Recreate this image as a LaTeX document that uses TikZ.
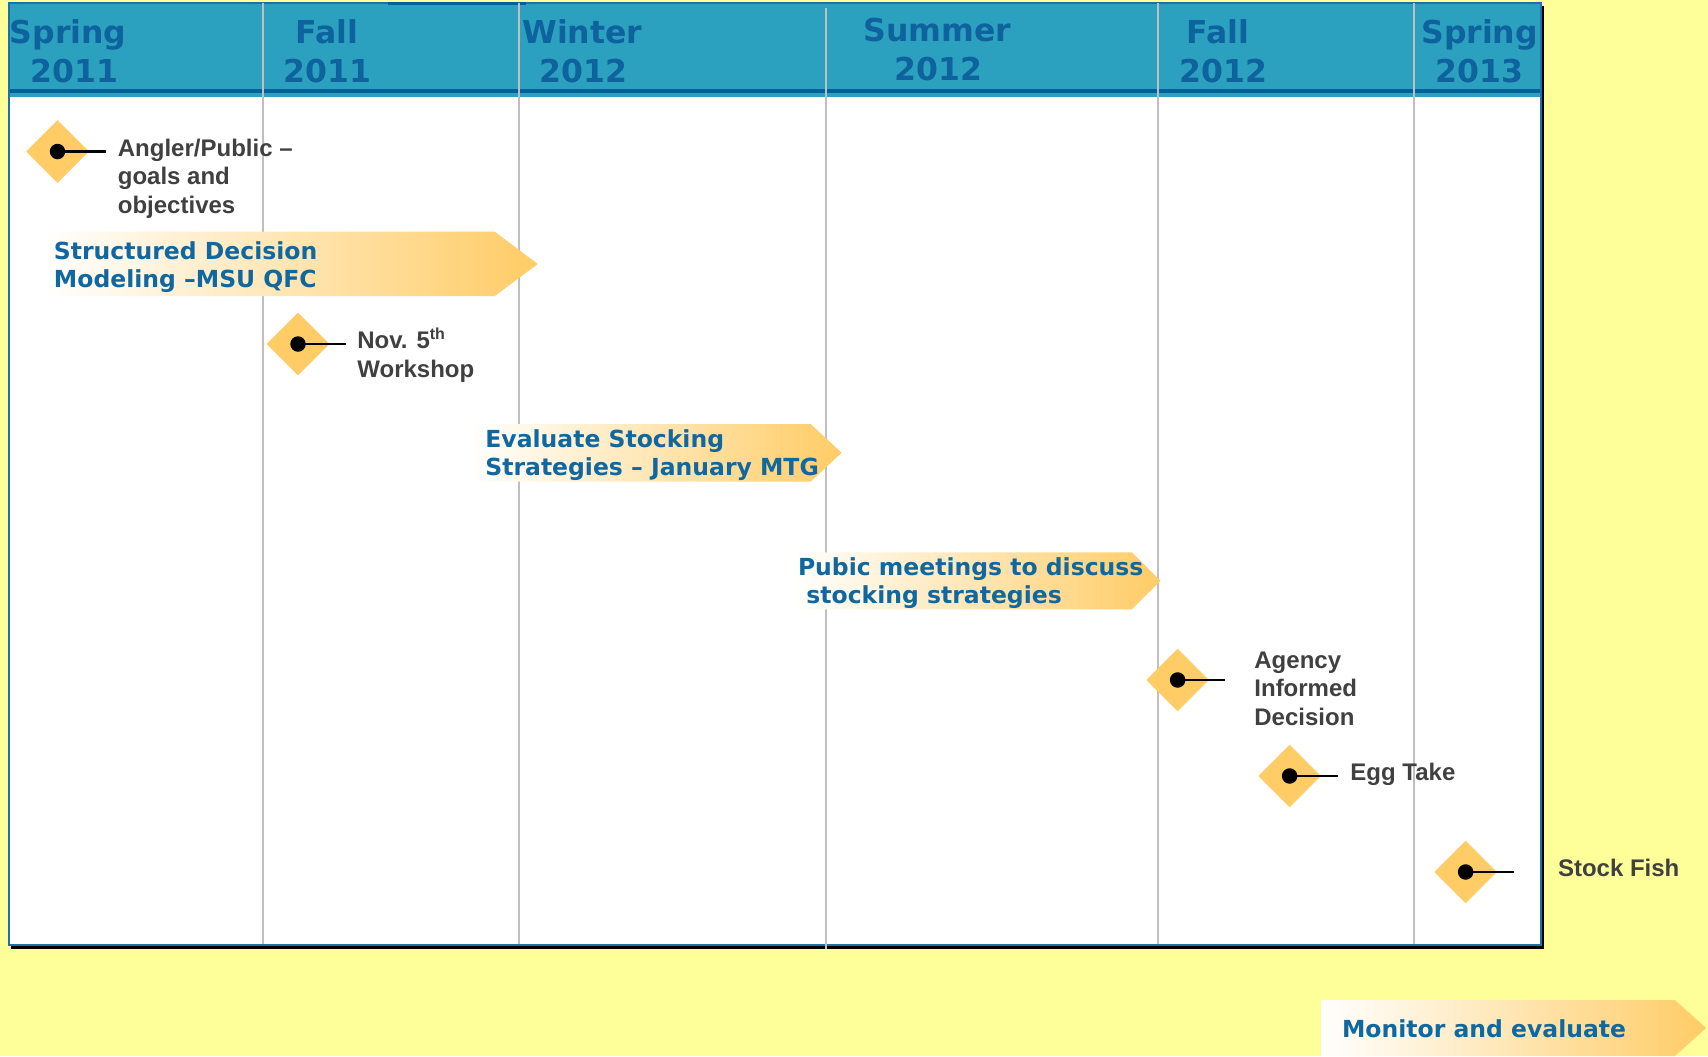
\documentclass[tikz,border=0pt]{standalone}
\usepackage{fontspec}
\usetikzlibrary{shapes.geometric}
\newfontfamily\dejavu{DejaVu Sans}
\newfontfamily\arialish{Liberation Sans}

\definecolor{bgyellow}{HTML}{FFFF99}
\definecolor{hdrteal}{RGB}{44,161,191}
\definecolor{hdrdark}{RGB}{0,96,154}
\definecolor{hdrtext}{RGB}{14,98,158}
\definecolor{bluetext}{RGB}{16,104,160}
\definecolor{msor}{HTML}{FFCC66}
\definecolor{labelgray}{HTML}{404040}
\definecolor{sepgray}{HTML}{BFBFBF}
\definecolor{frameblue}{RGB}{31,111,168}

% multi-line labels are placed by the baseline of their last line
\tikzset{
  hdr/.style={anchor=base west, inner sep=0pt, text=hdrtext,
    font=\dejavu\bfseries\fontsize{15.75}{19.5}\selectfont},
  sepline/.style={draw=sepgray, line width=1pt},
  msdiamond/.style={diamond, fill=msor, minimum width=31.5pt,
    minimum height=31.5pt, inner sep=0pt},
  msdot/.style={circle, fill=black, minimum size=7.75pt, inner sep=0pt},
  msstem/.style={draw=black, line width=1.4pt},
  mslabel/.style={anchor=base west, inner sep=0pt, align=left, text=labelgray,
    font=\arialish\bfseries\fontsize{12}{14.25}\selectfont},
  phase/.style={left color=white, right color=msor},
  phaselabel/.style={anchor=base west, inner sep=0pt, align=left, text=bluetext,
    font=\dejavu\bfseries\fontsize{11.75}{14.1}\selectfont},
}

\begin{document}
\begin{tikzpicture}[x=0.5pt,y=-0.5pt]
\useasboundingbox (0,0) rectangle (1708,1056);
\fill[bgyellow] (0,0) rectangle (1708,1056);

% timeline frame with its drop edge
\fill[black] (11,6) rectangle (1543.5,949);
\fill[white] (9,3) rectangle (1541,944.5);
\fill[hdrteal] (9,3) rectangle (1541,96.5);
\fill[hdrdark] (9,89) rectangle (1541,93);
\draw[frameblue, line width=1pt] (9,3) rectangle (1541,944.5);
\fill[hdrdark] (388,2) rectangle (526,4.5);

% season separators
\foreach \sx in {262.5,518.5,1158,1414}
  \draw[sepline] (\sx,3) -- (\sx,944);
\draw[sepline] (826,8) -- (826,949);

% season headings
\node[hdr] (h1a) at (9.6,43) {Spring};
\node[hdr] (h1b) at (30,82) {2011};
\node[hdr] (h2a) at (295,43) {Fall};
\node[hdr] (h2b) at (283,82) {2011};
\node[hdr] (h3a) at (522,43) {Winter};
\node[hdr] (h3b) at (539,82) {2012};
\node[hdr] (h4a) at (863,41) {Summer};
\node[hdr] (h4b) at (894,80) {2012};
\node[hdr] (h5a) at (1186,43) {Fall};
\node[hdr] (h5b) at (1179,82) {2012};
\node[hdr] (h6a) at (1421,43) {Spring};
\node[hdr] (h6b) at (1435,82) {2013};

% phase arrows
\shade[phase] (44,231.7) -- (494.8,231.7) -- (537.7,264) -- (494.8,296) -- (44,296) -- cycle;
\node[phaselabel] (p1) at (53.6,287.3) {Structured Decision\\Modeling –MSU QFC};

\shade[phase] (471,424) -- (810.6,424) -- (841.6,452.8) -- (810.6,481.7) -- (471,481.7) -- cycle;
\node[phaselabel] (p2) at (485,475.7) {Evaluate Stocking\\Strategies – January MTG};

\shade[phase] (792.8,552.3) -- (1131.8,552.3) -- (1160.5,580.8) -- (1131.8,609.3) -- (792.8,609.3) -- cycle;
\node[phaselabel] (p3) at (797.6,603.3) {Pubic meetings to discuss\\\hspace*{4.2pt}stocking strategies};

\shade[phase] (1321.7,1000) -- (1675,1000) -- (1706,1028) -- (1675,1056) -- (1321.7,1056) -- cycle;
\node[phaselabel] (p4) at (1341.7,1037.7) {Monitor and evaluate};

% milestones
\node[msdiamond] (m1) at (57.5,151.5) {};
\node[msdot] (d1) at (m1.center) {};
\coordinate (s1) at (106,151.5);
\draw[msstem] (d1.center) -- (s1);
\node[mslabel] (l1) at (117.5,213) {Angler/Public –\\goals and\\objectives};

\node[msdiamond] (m2) at (298,344) {};
\node[msdot] (d2) at (m2.center) {};
\coordinate (s2) at (346,344);
\draw[msstem] (d2.center) -- (s2);
\node[mslabel, font=\arialish\bfseries\fontsize{12}{14.5}\selectfont] (l2) at (357,377.3) {Nov. 5\textsuperscript{th}\\Workshop};

\node[msdiamond] (m3) at (1177.6,680) {};
\node[msdot] (d3) at (m3.center) {};
\coordinate (s3) at (1225,680);
\draw[msstem] (d3.center) -- (s3);
\node[mslabel] (l3) at (1254,725) {Agency\\Informed\\Decision};

\node[msdiamond] (m4) at (1289.6,776) {};
\node[msdot] (d4) at (m4.center) {};
\coordinate (s4) at (1337.7,776);
\draw[msstem] (d4.center) -- (s4);
\node[mslabel] (l4) at (1350,780) {Egg Take};

\node[msdiamond] (m5) at (1465.6,872) {};
\node[msdot] (d5) at (m5.center) {};
\coordinate (s5) at (1513.6,872);
\draw[msstem] (d5.center) -- (s5);
\node[mslabel] (l5) at (1557.6,876.7) {Stock Fish};
\end{tikzpicture}
\end{document}
